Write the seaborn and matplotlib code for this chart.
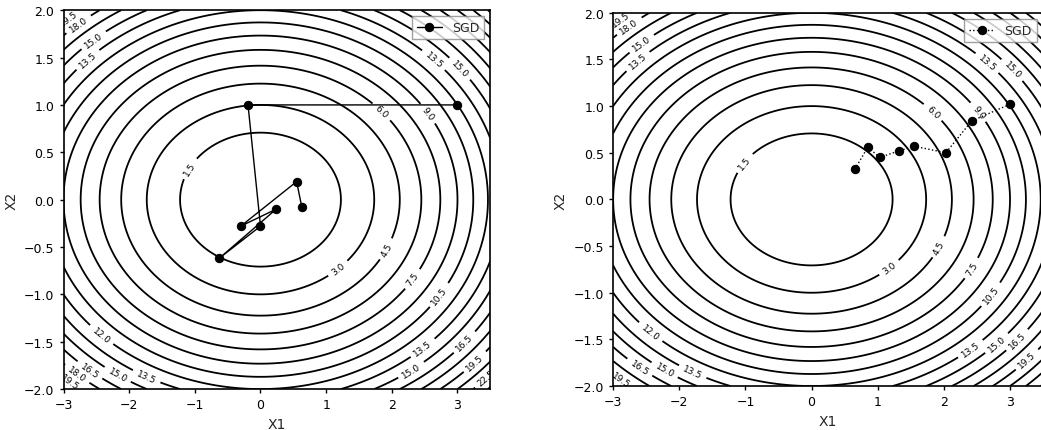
import numpy as np
import pandas as pd
import matplotlib
matplotlib.use("Agg")
import matplotlib.pyplot as plt
import seaborn as sns

# contour levels of f(x1, x2) = x1^2 + 3*x2^2
levels = [1.5, 3.0, 4.5, 6.0, 7.5, 9.0, 10.5, 12.0, 13.5, 15.0, 16.5, 18.0, 19.5, 21.0, 22.5, 24.0]

# SGD trajectories
left_x1 = [3.0, -0.19, 0.0, -0.63, 0.24, -0.30, 0.55, 0.63]
left_x2 = [1.0, 1.0, -0.28, -0.62, -0.10, -0.28, 0.19, -0.08]

right_x1 = [3.0, 2.42, 2.03, 1.55, 1.32, 1.03, 0.85, 0.66]
right_x2 = [1.02, 0.84, 0.50, 0.57, 0.52, 0.45, 0.56, 0.33]

xticks = [-3, -2, -1, 0, 1, 2, 3]
yticks = [-2.0, -1.5, -1.0, -0.5, 0.0, 0.5, 1.0, 1.5, 2.0]

# approximate spots of the contour labels
left_label_pos = [(-1.08, 0.33), (1.15, -0.70), (1.91, -0.52), (1.86, 0.94),
                  (2.32, -0.84), (2.57, 0.92), (2.67, -0.98), (-2.39, -1.40),
                  (2.67, 1.5), (3.03, 1.38), (-1.73, -1.86), (-2.17, -1.84),
                  (-2.59, -1.79), (-2.77, -1.82), (-2.87, -1.89), (2.52, -1.61),
                  (2.27, -1.77), (3.1, -1.5), (3.25, -1.7), (3.4, -1.85),
                  (-2.79, 1.87), (-2.59, 1.73), (-2.67, 1.51), (-2.9, 1.9)]
right_label_pos = [(-1.03, 0.40), (1.15, -0.71), (1.9, -0.5), (1.84, 0.94),
                   (2.58, 0.97), (2.36, -0.71), (2.66, -0.99), (-2.4, -1.39),
                   (2.7, 1.5), (3.05, 1.4), (-1.8, -1.85), (-2.2, -1.8),
                   (-2.6, -1.8), (-2.85, -1.9), (2.45, -1.65), (2.75, -1.5),
                   (3.1, -1.5), (3.3, -1.75), (-2.75, 1.85), (-2.6, 1.7),
                   (-2.65, 1.5), (-2.9, 1.95)]

sns.set_style("ticks")
plt.rcParams['font.family'] = ['DejaVu Sans']

fig = plt.figure(figsize=(10.41, 4.31), dpi=100)
ax1 = fig.add_axes([0.061, 0.095, 0.41, 0.879])
ax2 = fig.add_axes([0.589, 0.102, 0.413, 0.866])

g1 = np.linspace(-3, 3.5, 400)
g2 = np.linspace(-2, 2, 400)
X1, X2 = np.meshgrid(g1, g2)
Z = X1 ** 2 + 3 * X2 ** 2


def draw(ax, xs, ys, ls, label_pos):
    cs = ax.contour(X1, X2, Z, levels=levels, colors='black', linewidths=1.3)
    ax.clabel(cs, inline=True, fontsize=6.5, fmt='%1.1f', manual=label_pos)
    df = pd.DataFrame({'X1': xs, 'X2': ys})
    sns.lineplot(data=df, x='X1', y='X2', sort=False, estimator=None, ax=ax,
                 color='black', marker='o', markersize=6, linewidth=1.0,
                 linestyle=ls, markeredgecolor='black', label='SGD')
    ax.set_xlim(-3, 3.5)
    ax.set_ylim(-2, 2)
    ax.set_xticks(xticks)
    ax.set_yticks(yticks)
    ax.set_xlabel('X1', fontsize=10)
    ax.set_ylabel('X2', fontsize=10)
    ax.tick_params(labelsize=9, length=3, width=1, colors='black')
    for s in ax.spines.values():
        s.set_visible(True)
        s.set_color('black')
        s.set_linewidth(1.2)
    leg = ax.legend(loc='upper right', fontsize=9, frameon=True, fancybox=False)
    leg.get_frame().set_edgecolor('#888888')


draw(ax1, left_x1, left_x2, '-', left_label_pos)
draw(ax2, right_x1, right_x2, ':', right_label_pos)

fig.savefig('out.png', dpi=100)
